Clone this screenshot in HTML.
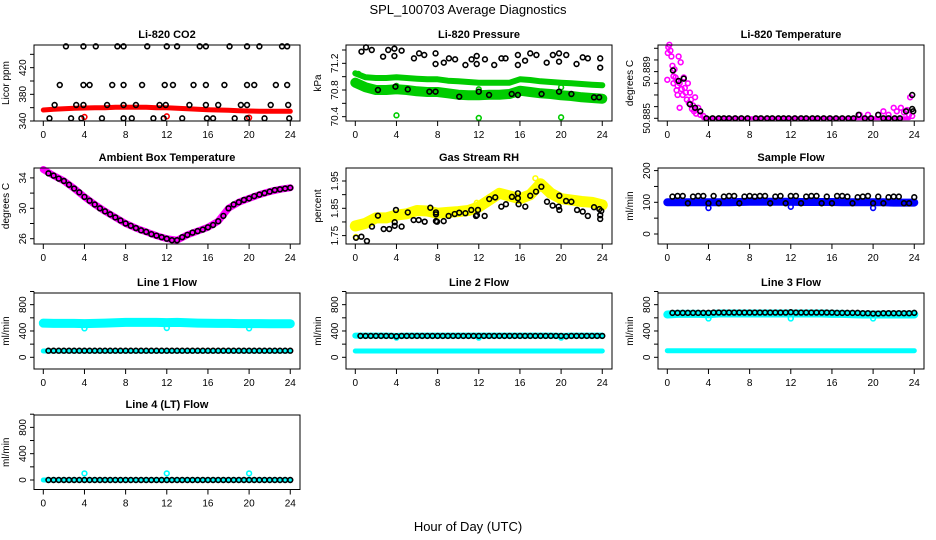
<!DOCTYPE html>
<html><head><meta charset="utf-8">
<style>
html,body{margin:0;padding:0;background:#fff;}
svg{display:block;font-family:"Liberation Sans",sans-serif;}
</style></head>
<body>
<svg id="chart" width="936" height="540" viewBox="0 0 936 540" xmlns="http://www.w3.org/2000/svg">
<rect width="936" height="540" fill="#fff"/>
<text x="468" y="14" font-size="13" text-anchor="middle">SPL_100703  Average Diagnostics</text>
<text x="468" y="531" font-size="13" text-anchor="middle">Hour of Day (UTC)</text>
</svg>
<script>
const hours=[0,1,2,3,4,5,6,7,8,9,10,11,12,13,14,15,16,17,18,19,20,21,22,23,24];
const halfHours=[0.5,1,1.5,2,2.5,3,3.5,4,4.5,5,5.5,6,6.5,7,7.5,8,8.5,9,9.5,10,10.5,11,11.5,12,12.5,13,13.5,14,14.5,15,15.5,16,16.5,17,17.5,18,18.5,19,19.5,20,20.5,21,21.5,22,22.5,23,23.5,24];
const xTicks=[0,4,8,12,16,20,24];
// CO2
const co2Band=[356.5,357.5,358.5,359,359.5,360,360,360.5,360.5,360.5,360.5,360,360,359,358.5,357.5,357,356.5,356,355.5,355,354.5,354.5,354.5,354.5];
const co2H=[2.2,3.9,5.1,7.2,7.8,10.1,12,13,15.2,15.8,18.1,19.8,21,23.2,23.7,1.6,3.9,4.5,6.7,7.8,9.6,11.8,12.6,14.6,15.8,17.6,19.8,20.5,22.6,23.7,1.1,3.2,3.9,6.2,7.8,9.0,11.3,11.9,14.2,15.8,17.0,19.2,19.8,22.1,23.8,0.6,2.7,3.7,5.7,7.8,8.6,10.7,11.7,13.5,15.9,16.5,18.6,19.8,21.5,23.9];
const co2V=[452,452,452,452,452,452,452,452,452,452,452,452,452,452,452,394,394,394,394,394,394,394,394,394,394,394,394,394,394,394,364,364,364,364,364,364,364,364,364,364,364,364,364,364,364,344,344,344,344,344,344,344,344,344,344,344,344,344,344,344];
const co2RedH=[4,12,20];
const co2RedV=[346,347,345];
// Pressure
const presUpper=[71.05,70.99,70.98,70.98,70.99,70.98,70.97,70.96,70.96,70.94,70.93,70.92,70.91,70.91,70.91,70.91,70.96,70.95,70.93,70.92,70.91,70.9,70.89,70.88,70.87];
const presLower=[70.91,70.84,70.8,70.8,70.81,70.8,70.78,70.77,70.77,70.75,70.73,70.72,70.72,70.73,70.73,70.74,70.79,70.77,70.75,70.74,70.72,70.71,70.69,70.68,70.67];
const presBlkH=[0.6,1.04,1.6,2.7,3.2,3.8,3.8,4.5,5.7,6.2,6.7,7.8,7.8,8.6,9.1,9.7,10.7,11.3,11.8,11.8,12.6,13.5,14.2,14.6,15.8,15.8,16.5,17.0,17.6,18.6,19.2,19.8,19.8,20.5,21.5,22.1,22.6,23.8,23.8,2.2,3.9,5.1,7.2,7.8,10.1,12,13,15.2,15.8,18.1,19.8,21,23.2,23.7];
const presBlkV=[71.375,71.44,71.40,71.30,71.40,71.42,71.31,71.39,71.275,71.35,71.325,71.35,71.19,71.21,71.275,71.26,71.175,71.26,71.31,71.19,71.26,71.175,71.275,71.275,71.325,71.175,71.24,71.35,71.325,71.21,71.325,71.35,71.225,71.325,71.19,71.29,71.275,71.275,71.135,70.80,70.85,70.81,70.775,70.775,70.70,70.775,70.725,70.74,70.725,70.74,70.775,70.74,70.69,70.69];
const presGrnH=[4,12,20,4,12,20,0.3];
const presGrnV=[70.42,70.38,70.39,70.86,70.81,70.84,71.04];
// Li-820 temperature (offset from 50.885, in 0.001 units)
const tempMagH=[0.05,0.1,0.2,0.3,0.4,0.5,0.6,0.0,0.7,0.8,0.9,1.0,1.1,1.3,1.4,1.5,1.6,1.7,1.8,1.9,2.0,2.1,2.2,2.3,2.4,2.5,2.6,2.7,2.8,3.0,3.2,3.5,1.2,1.0,0.9,1.2,0.6,18.7,19.5,20.5,21,21.5,22,22.3,22.7,23,23.3,23.6,23.5,23.8];
const tempMagD=[5.6,6.1,6.3,5.8,5.3,4.5,3.6,3.3,4.2,3.5,3.2,2.8,5.3,4.8,2.5,2.0,3.5,2.6,2.2,1.6,3.0,1.3,2.2,1.6,0.8,1.1,0.6,1.8,0.4,0.9,0.3,0.2,0.9,2.0,2.4,3.0,3.0,0.3,0.3,0.3,0.6,0.3,0.9,0.6,0.9,0.5,0.7,1.8,0.3,0.2];
const tempFlatH=[3.5,4,6,8,10,12,14,16,18,20,22,23.5];
const tempFlat=[0,0,0,0,0,0,0,0,0,0,0,0];
const tempBlkH=[0.55,1.1,1.6,2.2,2.7,3.2,3.8,4.4,5.0,5.5,6.0,6.6,7.2,7.8,8.6,9.1,9.7,10.2,10.8,11.3,11.8,12.4,13.0,13.5,14.1,14.6,15.2,15.8,16.4,17.0,17.6,18.1,18.6,19.2,19.8,20.5,21.0,21.5,22.1,22.6,23.2,23.8,23.8,23.9];
const tempBlkD=[4.1,3.2,3.4,1.2,0.9,0.6,0,0,0,0,0,0,0,0,0,0,0,0,0,0,0,0,0,0,0,0,0,0,0,0,0,0,0.3,0,0,0.3,0,0,0,0,0.6,2.0,0.8,0.6];
// Ambient
const ambBand=[35.1,34.3,33.6,32.6,31.5,30.5,29.6,28.8,28.0,27.4,26.9,26.4,26.0,25.8,26.5,27.0,27.5,28.3,30.0,30.8,31.3,31.8,32.2,32.5,32.7];
const ambBlk=[34.6,34.3,33.9,33.6,33.1,32.6,32.1,31.5,31.0,30.5,30.0,29.6,29.2,28.8,28.4,28.0,27.7,27.4,27.1,26.9,26.6,26.4,26.2,26.0,25.8,25.8,26.2,26.5,26.8,27.0,27.2,27.5,27.8,28.3,29.0,30.0,30.5,30.8,31.1,31.3,31.6,31.8,32.0,32.2,32.4,32.5,32.6,32.7];
// RH
const rhBand=[1.785,1.795,1.815,1.815,1.825,1.83,1.842,1.84,1.832,1.835,1.838,1.842,1.855,1.88,1.905,1.895,1.885,1.9,1.94,1.905,1.885,1.88,1.875,1.872,1.862];
const rhBlkH=[0.07,0.59,1.13,1.62,2.2,2.76,3.3,3.83,3.83,3.95,4.5,5.1,5.67,6.16,6.74,7.29,7.84,7.84,7.84,7.94,8.59,9.07,9.66,10.1,10.7,11.27,11.73,11.82,11.92,12.57,13.02,13.6,14.19,14.64,15.22,15.8,15.8,15.87,16.52,17.0,17.56,18.08,18.63,19.18,19.76,19.83,19.83,20.48,21.0,21.55,22.1,22.6,23.2,23.72,23.8,23.8,23.9];
const rhBlkV=[1.742,1.746,1.730,1.783,1.823,1.774,1.774,1.786,1.799,1.844,1.783,1.835,1.807,1.807,1.801,1.852,1.835,1.828,1.803,1.801,1.803,1.822,1.829,1.834,1.832,1.844,1.822,1.825,1.844,1.822,1.884,1.890,1.856,1.865,1.892,1.905,1.887,1.865,1.856,1.896,1.911,1.929,1.874,1.860,1.856,1.844,1.896,1.877,1.874,1.844,1.838,1.822,1.854,1.847,1.825,1.811,1.840];
const rhYelH=[0.05,17.5,11.8];
const rhYelV=[1.745,1.96,1.87];
// Sample flow
const sampBand=[100,100,100,100,100,100,100,101,102,102,102,102,102,101,101,101,101,100,100,100,100,100,99,99,99];
const sampBlk=[118,120,120,97,118,120,120,97,120,97,118,120,120,97,118,120,118,120,120,97,118,120,97,120,120,97,118,120,120,97,118,97,120,120,118,97,116,118,120,97,118,97,116,118,118,97,97,116];
const sampBlueH=[4,12,20];
const sampBlueV=[82,86,82];
// Line flows
const l1Upper=[520,515,515,515,512,515,520,525,530,530,530,530,528,530,525,520,518,515,515,512,512,512,510,510,510];
const l1Lower=[95,95,95,95,95,95,95,95,95,95,95,95,95,95,95,95,95,95,95,95,95,95,95,95,95];
const l1Blk=[100,100,100,100,100,100,100,100,100,100,100,100,100,100,100,100,100,100,100,100,100,100,100,100,100,100,100,100,100,100,100,100,100,100,100,100,100,100,100,100,100,100,100,100,100,100,100,100];
const l2Upper=[330,330,330,330,325,330,330,330,330,330,330,330,330,330,330,330,330,330,330,330,325,330,330,330,330];
const l2Lower=[95,95,95,95,95,95,95,95,95,95,95,95,95,95,95,95,95,95,95,95,95,95,95,95,95];
const l2Blk=[325,325,325,325,325,325,325,320,325,325,325,325,325,325,325,325,325,325,325,325,325,325,325,325,325,325,325,325,325,325,325,325,325,325,325,325,325,325,325,325,320,325,325,325,325,325,325,325];
const l3Upper=[650,660,660,660,655,665,665,665,665,665,665,665,665,665,665,665,660,660,655,650,650,650,650,650,650];
const l3Lower=[100,100,100,100,100,100,100,100,100,100,100,100,100,100,100,100,100,100,100,100,100,100,100,100,100];
const l3Blk=[675,675,675,675,675,675,675,675,680,680,680,680,680,680,680,680,680,680,680,680,680,680,680,685,680,680,680,680,680,680,680,680,675,675,675,675,675,670,670,665,665,670,670,670,670,670,670,675];
const l4Cyan=[0,0,0,0,0,0,0,0,0,0,0,0,0,0,0,0,0,0,0,0,0,0,0,0,0];
const l4Blk=[0,0,0,0,0,0,0,0,0,0,0,0,0,0,0,0,0,0,0,0,0,0,0,0,0,0,0,0,0,0,0,0,0,0,0,0,0,0,0,0,0,0,0,0,0,0,0,0];
const dipH=[4,12,20];
const l1Dip=[440,445,440];
const l2Dip=[300,300,300];
const l3Dip=[590,590,590];
const l4Dip=[100,100,100];
const flowTicks=[0,200,400,600,800,1000];
const flowLabels=[0,400,800];

const NS='http://www.w3.org/2000/svg';
const svg=document.getElementById('chart');
function mk(tag,attrs,parent){const e=document.createElementNS(NS,tag);for(const k in attrs)e.setAttribute(k,attrs[k]);(parent||svg).appendChild(e);return e;}
const lefts=[34,346,658],tops=[45,168,293,415];
function panel(name,col,row,title,ytitle,zeroOff,v0,ppu,ticks,labels){
  const L=lefts[col],T=tops[row],W=266,H=(row===3?74.5:76);
  const g=mk('g',{});
  
  
  const P={g:g,x:h=>L+9.3+h*10.29,y:v=>T+zeroOff-(v-v0)*ppu};
  const t=mk('text',{x:L+W/2,y:T-7,'font-size':11,'font-weight':'bold','text-anchor':'middle'},g);
  t.textContent=title;
  
  
  const yt=mk('text',{x:0,y:0,'font-size':10,'text-anchor':'middle',transform:`translate(${L-25},${T+H/2}) rotate(-90)`},g);
  yt.textContent=ytitle;
  
  
  ticks.forEach(v=>{const y=P.y(v);mk('line',{x1:L-4,x2:L,y1:y,y2:y,stroke:'#000','stroke-width':1},g);});
  mk('line',{x1:L,x2:L,y1:P.y(ticks[0]),y2:P.y(ticks[ticks.length-1]),stroke:'#000'},g);
  labels.forEach(v=>{const y=P.y(v);const tx=mk('text',{'font-size':10,'text-anchor':'middle',transform:`translate(${L-8},${y}) rotate(-90)`},g);tx.textContent=String(v);
    
    });
  xTicks.forEach(h=>{const x=P.x(h);mk('line',{x1:x,x2:x,y1:T+H,y2:T+H+5,stroke:'#000'},g);
    const tx=mk('text',{x:x,y:T+H+17,'font-size':10,'text-anchor':'middle'},g);tx.textContent=String(h);
    
    });
  P.box=()=>{const b=mk('rect',{x:L,y:T,width:W,height:H,fill:'none',stroke:'#000','stroke-width':1},g);
    
    };
  return P;
}
function band(P,xs,vs,color,w,name){
  const pts=xs.map((h,i)=>P.x(h).toFixed(1)+','+P.y(vs[i]).toFixed(1)).join(' ');
  const pl=mk('polyline',{points:pts,fill:'none',stroke:color,'stroke-width':w,'stroke-linejoin':'round','stroke-linecap':'round'},P.g);
  
  
}
function pts(P,xs,vs,color,name){
  xs.forEach((h,i)=>{const c=mk('circle',{cx:P.x(h),cy:P.y(vs[i]),r:2.4,fill:'none',stroke:color,'stroke-width':1.6},P.g);
    
    });
}
const MAG='#ff00ff',CY='#00ffff',GR='#00cc00',YE='#ffff00',BL='#0000ff',RD='#ff0000';
// Panel 1 CO2
let P=panel('li820-co2',0,0,'Li-820 CO2','Licor ppm',76,340,0.6667,[340,360,380,400,420,440],[340,380,420]);
band(P,hours,co2Band,RD,5,'co2-band');pts(P,co2RedH,co2RedV,RD,'co2-red-point');pts(P,co2H,co2V,'#000','co2-point');P.box();
// Panel 2 pressure
P=panel('li820-pressure',1,0,'Li-820 Pressure','kPa',45,70.8,66.67,[70.4,70.6,70.8,71.0,71.2,71.4],[70.4,70.8,71.2]);
band(P,hours,presUpper,GR,6,'pressure-upper-band');band(P,hours,presLower,GR,10,'pressure-lower-band');
pts(P,presGrnH,presGrnV,GR,'pressure-green-point');pts(P,presBlkH,presBlkV,'#000','pressure-point');P.box();
// Panel 3 temperature
P=panel('li820-temperature',2,0,'Li-820 Temperature','degrees C',73.3,0,11.67,[0,1,2,3,4,5,6],[]);
[[0,'50.885'],[4,'50.889']].forEach(([d,s])=>{const y=P.y(d);const tx=mk('text',{'font-size':10,'text-anchor':'middle',transform:`translate(${lefts[2]-8},${y}) rotate(-90)`},P.g);tx.textContent=s;
  
  });
band(P,tempFlatH,tempFlat,MAG,4,'temperature-band');pts(P,tempMagH,tempMagD,MAG,'temperature-magenta-point');pts(P,tempBlkH,tempBlkD,'#000','temperature-point');P.box();
// Ambient
P=panel('ambient-box-temperature',0,1,'Ambient Box Temperature','degrees C',40.3,30,7.6,[26,28,30,32,34],[26,30,34]);
band(P,hours,ambBand,MAG,7,'ambient-band');pts(P,halfHours,ambBlk,'#000','ambient-point');P.box();
// RH
P=panel('gas-stream-rh',1,1,'Gas Stream RH','percent',40.3,1.85,273,[1.75,1.80,1.85,1.90,1.95],[1.75,1.85,1.95]);
band(P,hours,rhBand,YE,11,'rh-band');pts(P,rhYelH,rhYelV,YE,'rh-yellow-point');pts(P,rhBlkH,rhBlkV,'#000','rh-point');P.box();
// Sample flow
P=panel('sample-flow',2,1,'Sample Flow','ml/min',34.3,100,0.317,[0,50,100,150,200],[0,100,200]);
band(P,hours,sampBand,BL,8,'sample-flow-band');pts(P,sampBlueH,sampBlueV,BL,'sample-flow-blue-point');pts(P,halfHours,sampBlk,'#000','sample-flow-point');P.box();
// Line flows
P=panel('line1-flow',0,2,'Line 1 Flow','ml/min',64.3,0,0.0658,flowTicks,flowLabels);
band(P,hours,l1Upper,CY,9,'line1-upper-band');band(P,hours,l1Lower,CY,5,'line1-lower-band');pts(P,dipH,l1Dip,CY,'line1-cyan-point');pts(P,halfHours,l1Blk,'#000','line1-point');P.box();
P=panel('line2-flow',1,2,'Line 2 Flow','ml/min',64.3,0,0.0658,flowTicks,flowLabels);
band(P,hours,l2Upper,CY,6,'line2-upper-band');band(P,hours,l2Lower,CY,5,'line2-lower-band');pts(P,dipH,l2Dip,CY,'line2-cyan-point');pts(P,halfHours,l2Blk,'#000','line2-point');P.box();
P=panel('line3-flow',2,2,'Line 3 Flow','ml/min',64.3,0,0.0658,flowTicks,flowLabels);
band(P,hours,l3Upper,CY,8,'line3-upper-band');band(P,hours,l3Lower,CY,5,'line3-lower-band');pts(P,dipH,l3Dip,CY,'line3-cyan-point');pts(P,halfHours,l3Blk,'#000','line3-point');P.box();
P=panel('line4-flow',0,3,'Line 4 (LT) Flow','ml/min',65,0,0.0658,flowTicks,flowLabels);
band(P,hours,l4Cyan,CY,5,'line4-band');pts(P,dipH,l4Dip,CY,'line4-cyan-point');pts(P,halfHours,l4Blk,'#000','line4-point');P.box();
</script>
</body></html>
